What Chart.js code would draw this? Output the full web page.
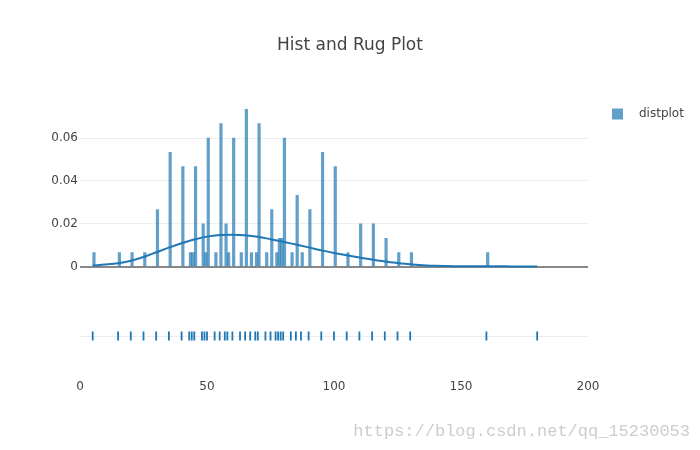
<!DOCTYPE html>
<html><head><meta charset="utf-8">
<script src="https://cdn.jsdelivr.net/npm/chart.js@4.4.0/dist/chart.umd.min.js"></script>
<style>html,body{margin:0;padding:0;background:#fff}</style>
</head><body>
<canvas id="c" width="700" height="450"></canvas>
<script>
// ---- data ----
const chartTitle = 'Hist and Rug Plot';
const seriesName = 'distplot';
const watermark = 'https://blog.csdn.net/qq_15230053';
const binCenters = [5.5, 15.5, 20.5, 25.5, 30.5, 35.5, 40.5, 43.5, 44.5, 45.5, 48.5, 49.5, 50.5, 53.5, 55.5, 57.5, 58.5, 60.5, 63.5, 65.5, 67.5, 69.5, 70.5, 73.5, 75.5, 77.5, 78.5, 79.5, 80.5, 83.5, 85.5, 87.5, 90.5, 95.5, 100.5, 105.5, 110.5, 115.5, 120.5, 125.5, 130.5, 160.5];
const densities = [0.0067, 0.0067, 0.0067, 0.0067, 0.0267, 0.0533, 0.0467, 0.0067, 0.0067, 0.0467, 0.02, 0.0067, 0.06, 0.0067, 0.0667, 0.02, 0.0067, 0.06, 0.0067, 0.0733, 0.0067, 0.0067, 0.0667, 0.0067, 0.0267, 0.0067, 0.0133, 0.0133, 0.06, 0.0067, 0.0333, 0.0067, 0.0267, 0.0533, 0.0467, 0.0067, 0.02, 0.02, 0.0133, 0.0067, 0.0067, 0.0067];
const kdeX = [5, 10, 15, 20, 25, 30, 35, 40, 45, 50, 55, 60, 65, 70, 75, 80, 85, 90, 95, 100, 105, 110, 115, 120, 125, 130, 135, 140, 145, 150, 155, 160, 165, 170, 175, 180];
const kdeY = [0.0007, 0.0011, 0.0017, 0.0029, 0.0046, 0.0068, 0.0090, 0.0110, 0.0128, 0.0141, 0.0148, 0.0150, 0.0147, 0.0140, 0.0129, 0.0117, 0.0104, 0.0091, 0.0077, 0.0065, 0.0054, 0.0044, 0.0034, 0.0025, 0.0018, 0.0012, 0.0008, 0.0005, 0.0004, 0.0003, 0.0003, 0.0003, 0.0003, 0.0002, 0.0002, 0.0002];
const rugValues = [5, 15, 20, 25, 30, 35, 40, 43, 44, 45, 48, 49, 50, 53, 55, 57, 58, 60, 63, 65, 67, 69, 70, 73, 75, 77, 78, 79, 80, 83, 85, 87, 90, 95, 100, 105, 110, 115, 120, 125, 130, 160, 180];
const xTicks = [0, 50, 100, 150, 200];
const yTicks = [0, 0.02, 0.04, 0.06];

// ---- styles ----
const FONT = 'DejaVu Sans';
const blue = 'rgb(31,119,180)';
const blueBar = 'rgba(31,119,180,0.7)';
const textColor = '#444';

const sideLegend = {
  id: 'sideLegend',
  afterDraw(chart) {
    const ds = chart.data.datasets[0];
    const ctx = chart.ctx;
    const a = chart.chartArea;
    const x = a.right + 24, y = a.top + 14;
    ctx.save();
    ctx.fillStyle = ds.backgroundColor;
    ctx.fillRect(x, y - 5.5, 11, 11);
    ctx.fillStyle = textColor;
    ctx.font = '12px "' + FONT + '"';
    ctx.textBaseline = 'middle';
    ctx.textAlign = 'left';
    ctx.fillText(ds.label, x + 27, y);
    // blog watermark at the bottom right
    ctx.fillStyle = 'rgba(200,200,200,0.9)';
    ctx.font = '17px "Liberation Mono"';
    ctx.textAlign = 'right';
    ctx.textBaseline = 'alphabetic';
    ctx.fillText(watermark, chart.width - 10, chart.height - 14);
    ctx.restore();
  }
};

new Chart(document.getElementById('c'), {
  type: 'bar',
  data: {
    datasets: [
      {
        type: 'bar', label: seriesName,
        data: binCenters.map((x, i) => ({x: x, y: densities[i]})),
        backgroundColor: blueBar, borderWidth: 0,
        categoryPercentage: 1, barPercentage: 1,
        xAxisID: 'x', yAxisID: 'y', order: 3
      },
      {
        type: 'line', label: 'kde',
        data: kdeX.map((x, i) => ({x: x, y: kdeY[i]})),
        borderColor: blue, borderWidth: 2, pointRadius: 0, fill: false,
        cubicInterpolationMode: 'monotone',
        xAxisID: 'x', yAxisID: 'y', order: 2
      },
      {
        type: 'scatter', label: 'rug',
        data: rugValues.map(x => ({x: x, y: 0})),
        pointStyle: 'line', pointRotation: 90, pointRadius: 4.5,
        borderColor: blue, backgroundColor: blue, borderWidth: 1.8,
        xAxisID: 'x', yAxisID: 'yRug', order: 1
      }
    ]
  },
  options: {
    responsive: false,
    animation: false,
    layout: {padding: 0},
    plugins: {
      legend: {display: false},
      tooltip: {enabled: false},
      title: {
        display: true, text: chartTitle, color: textColor,
        font: {family: FONT, size: 17, weight: 'normal', lineHeight: 1},
        padding: {top: 37, bottom: 46}
      }
    },
    scales: {
      x: {
        type: 'linear', position: 'bottom', min: 0, max: 200, offset: false,
        grid: {display: false, offset: false},
        border: {display: false},
        afterBuildTicks: s => { s.ticks = xTicks.map(v => ({value: v})); },
        ticks: {font: {family: FONT, size: 12}, color: textColor, padding: 2, maxRotation: 0, autoSkip: false},
        afterFit: s => { s.height = 80; }
      },
      y: {
        type: 'linear', position: 'left', stack: 'v', stackWeight: 0.65, weight: 2,
        min: -0.004, max: 0.0777,
        afterBuildTicks: s => { s.ticks = yTicks.map(v => ({value: v})); },
        ticks: {
          callback: v => v === 0 ? '0' : v.toFixed(2),
          font: {family: FONT, size: 12}, color: textColor, padding: 2
        },
        grid: {
          color: c => (c.tick && c.tick.value === 0) ? '#888' : '#eee',
          lineWidth: c => (c.tick && c.tick.value === 0) ? 2 : 1,
          drawTicks: false
        },
        border: {display: false},
        afterFit: s => { s.width = 80; }
      },
      yRug: {
        type: 'linear', position: 'left', stack: 'v', stackWeight: 0.35, weight: 1,
        min: -1, max: 1.78,
        afterBuildTicks: s => { s.ticks = [{value: 0}]; },
        ticks: {display: false},
        grid: {color: '#eee', drawTicks: false},
        border: {display: false},
        afterFit: s => { s.width = 80; }
      },
      legendSpace: {
        type: 'linear', position: 'right', min: 0, max: 1,
        ticks: {display: false},
        grid: {display: false, drawTicks: false},
        border: {display: false},
        afterFit: s => { s.width = 112; }
      }
    }
  },
  plugins: [sideLegend]
});
</script>
</body></html>
